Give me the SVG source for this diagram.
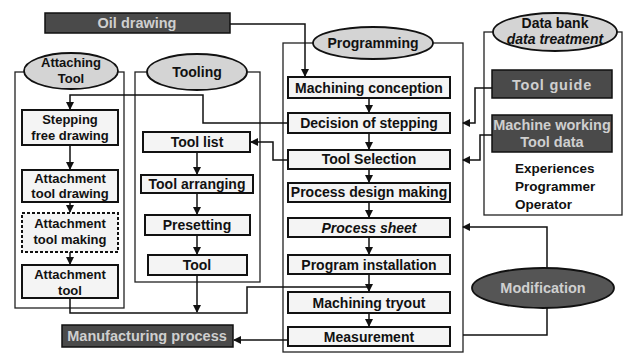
<svg xmlns="http://www.w3.org/2000/svg" width="626" height="359" viewBox="0 0 626 359">
<defs>
<marker id="ah" markerWidth="8" markerHeight="8" refX="7" refY="4" orient="auto" markerUnits="userSpaceOnUse">
<path d="M0,0 L8,4 L0,8 Z" fill="#111"/>
</marker>
<style>
.cont{fill:none;stroke:#222;stroke-width:1.3}
.box{fill:#f4f4f4;stroke:#111;stroke-width:2}
.dark{fill:#4a4a4a;stroke:#111;stroke-width:1.5}
.ell{fill:#d4d4d4;stroke:#111;stroke-width:1.8}
.dell{fill:#555;stroke:#111;stroke-width:1.8}
.t{font-family:"Liberation Sans",Arial,sans-serif;font-weight:bold;font-size:14px;fill:#111;text-anchor:middle}
.t2{font-family:"Liberation Sans",Arial,sans-serif;font-weight:bold;font-size:13px;fill:#111;text-anchor:middle}
.tl{font-family:"Liberation Sans",Arial,sans-serif;font-weight:bold;font-size:13.5px;fill:#111}
.tw{font-family:"Liberation Sans",Arial,sans-serif;font-weight:bold;font-size:14.5px;fill:#cfcfcf;text-anchor:middle}
.ln{fill:none;stroke:#111;stroke-width:1.5}
</style>
</defs>
<rect width="626" height="359" fill="#ffffff"/>

<!-- containers -->
<g id="attaching-tool">
<rect class="cont" x="15" y="72" width="109" height="236"/>
<ellipse class="ell" cx="71" cy="71" rx="47" ry="18"/>
<text class="t2" x="71" y="67">Attaching</text>
<text class="t2" x="71" y="82.5">Tool</text>
</g>
<g id="tooling">
<rect class="cont" x="135" y="72" width="125" height="210"/>
<ellipse class="ell" cx="197" cy="72" rx="50" ry="18"/>
<text class="t" x="197" y="77">Tooling</text>
</g>
<g id="programming">
<rect class="cont" x="283" y="43" width="180" height="309"/>
<ellipse class="ell" cx="373" cy="43" rx="60" ry="16"/>
<text class="t" x="373" y="48">Programming</text>
</g>
<g id="data-bank">
<rect class="cont" x="484" y="32" width="138" height="183"/>
<ellipse class="ell" cx="555" cy="32" rx="62" ry="19"/>
<text class="t" x="555" y="28">Data bank</text>
<text class="t" x="555" y="44" font-style="italic">data treatment</text>
<text class="tl" x="515" y="173">Experiences</text>
<text class="tl" x="515" y="191">Programmer</text>
<text class="tl" x="515" y="209">Operator</text>
</g>

<!-- connectors -->
<g id="connectors">
<path class="ln" d="M230,24 H305 V76" marker-end="url(#ah)"/>
<path class="ln" d="M288,123 H203 V95 H70 V109" marker-end="url(#ah)"/>
<path class="ln" d="M288,160 H273 V142 H251" marker-end="url(#ah)"/>
<path class="ln" d="M492,88 H475 V123 H463" marker-end="url(#ah)"/>
<path class="ln" d="M492,135 H480 V160 H463" marker-end="url(#ah)"/>
<path class="ln" d="M547,268 V227 H463" marker-end="url(#ah)"/>
<path class="ln" d="M547,308 V335 H463"/>
<path class="ln" d="M288,340 H234" marker-end="url(#ah)"/>
<path class="ln" d="M70,298 V313 H247 V287 H369"/>
<path class="ln" d="M197,275 V312" marker-end="url(#ah)"/>
<path class="ln" d="M369,98 V112" marker-end="url(#ah)"/>
<path class="ln" d="M369,133 V149" marker-end="url(#ah)"/>
<path class="ln" d="M369,169 V182" marker-end="url(#ah)"/>
<path class="ln" d="M369,202 V217" marker-end="url(#ah)"/>
<path class="ln" d="M369,237 V254" marker-end="url(#ah)"/>
<path class="ln" d="M369,274 V291" marker-end="url(#ah)"/>
<path class="ln" d="M369,313 V326" marker-end="url(#ah)"/>
<path class="ln" d="M70,145 V169" marker-end="url(#ah)"/>
<path class="ln" d="M70,202 V212" marker-end="url(#ah)"/>
<path class="ln" d="M70,252 V264" marker-end="url(#ah)"/>
<path class="ln" d="M197,152 V174" marker-end="url(#ah)"/>
<path class="ln" d="M197,193 V214" marker-end="url(#ah)"/>
<path class="ln" d="M197,235 V254" marker-end="url(#ah)"/>
</g>

<!-- dark boxes -->
<g id="oil-drawing">
<rect class="dark" x="45" y="13" width="185" height="20"/>
<text class="tw" x="137" y="28" font-size="13.5">Oil drawing</text>
</g>
<g id="manufacturing-process">
<rect class="dark" x="62" y="325" width="171" height="22"/>
<text class="tw" x="147" y="341" font-size="13.5">Manufacturing process</text>
</g>
<g id="tool-guide">
<rect class="dark" x="492" y="70" width="120" height="28"/>
<text class="tw" x="552" y="90" letter-spacing="0.8">Tool guide</text>
</g>
<g id="machine-working">
<rect class="dark" x="492" y="115" width="120" height="37"/>
<text class="tw" x="552" y="130">Machine working</text>
<text class="tw" x="552" y="147">Tool data</text>
</g>
<g id="modification">
<ellipse class="dell" cx="543" cy="288" rx="71" ry="20"/>
<text class="tw" x="543" y="293" font-size="15">Modification</text>
</g>

<!-- programming boxes -->
<g id="machining-conception"><rect class="box" x="288" y="77" width="162" height="21"/><text class="t" x="369" y="93">Machining conception</text></g>
<g id="decision-of-stepping"><rect class="box" x="288" y="113" width="162" height="20"/><text class="t" x="369" y="128">Decision of stepping</text></g>
<g id="tool-selection"><rect class="box" x="288" y="150" width="162" height="19"/><text class="t" x="369" y="164" font-size="11">Tool Selection</text></g>
<g id="process-design-making"><rect class="box" x="288" y="183" width="162" height="19"/><text class="t" x="369" y="197">Process design making</text></g>
<g id="process-sheet"><rect class="box" x="288" y="218" width="162" height="19"/><text class="t" x="369" y="233" font-style="italic">Process sheet</text></g>
<g id="program-installation"><rect class="box" x="288" y="255" width="162" height="19"/><text class="t" x="369" y="270">Program installation</text></g>
<g id="machining-tryout"><rect class="box" x="288" y="292" width="162" height="21"/><text class="t" x="369" y="308">Machining tryout</text></g>
<g id="measurement"><rect class="box" x="288" y="327" width="162" height="19"/><text class="t" x="369" y="342" font-size="13">Measurement</text></g>

<!-- attaching tool boxes -->
<g id="stepping-free-drawing"><rect class="box" x="22" y="110" width="96" height="35"/><text class="t2" x="70" y="124">Stepping</text><text class="t2" x="70" y="139.5">free drawing</text></g>
<g id="attachment-tool-drawing"><rect class="box" x="22" y="170" width="96" height="32"/><text class="t2" x="70" y="182.5">Attachment</text><text class="t2" x="70" y="198">tool drawing</text></g>
<g id="attachment-tool-making"><rect class="box" x="22" y="213" width="96" height="39" stroke-dasharray="3,2" stroke-width="1"/><text class="t2" x="70" y="228">Attachment</text><text class="t2" x="70" y="244">tool making</text></g>
<g id="attachment-tool"><rect class="box" x="22" y="265" width="96" height="33"/><text class="t2" x="70" y="279">Attachment</text><text class="t2" x="70" y="294.5">tool</text></g>

<!-- tooling boxes -->
<g id="tool-list"><rect class="box" x="143" y="132" width="107" height="20"/><text class="t" x="197" y="147">Tool list</text></g>
<g id="tool-arranging"><rect class="box" x="141" y="175" width="112" height="18"/><text class="t" x="197" y="189">Tool arranging</text></g>
<g id="presetting"><rect class="box" x="145" y="215" width="105" height="20"/><text class="t" x="197" y="230">Presetting</text></g>
<g id="tool"><rect class="box" x="148" y="255" width="99" height="20"/><text class="t" x="197" y="270">Tool</text></g>
</svg>
